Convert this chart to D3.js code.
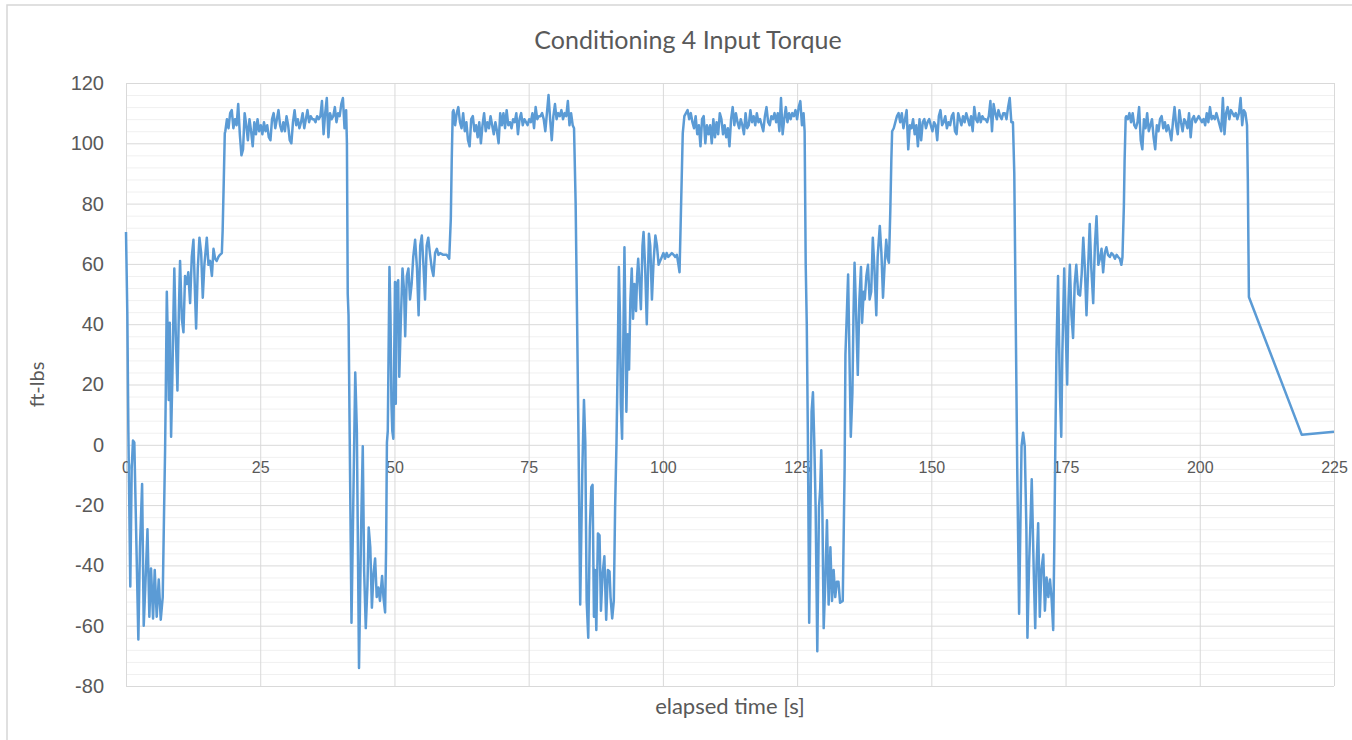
<!DOCTYPE html>
<html lang="en">
<head>
<meta charset="utf-8">
<title>Conditioning 4 Input Torque</title>
<script src="https://d3js.org/d3.v7.min.js"></script>
<style>
  body { margin: 0; background: #fff; font-family: Lato, "Open Sans", sans-serif; }
  .grid-minor line { stroke: #f0f0f0; stroke-width: 1; }
  .grid-major line { stroke: #d9d9d9; stroke-width: 1; }
  .axis text { fill: #595959; }
  .axis path, .axis line { display: none; }
  .torque { fill: none; stroke: #5b9bd5; stroke-width: 2.5; stroke-linejoin: round; }
</style>
</head>
<body>
<div class="main"></div>
<script>
// ---- data (elapsed time [s], torque [ft-lbs]) ----
var sampleStep = 0.3;   // spacing of the readings on the high plateaus

// falling edge, negative swing, rise and ~62 ft-lbs step of each cycle
var low1 = [[0,70.6],[0.25,43],[0.44,4.6],[0.8,-47],[1.06,-8],[1.3,1.4],[1.55,0.8],[1.87,-27],[2.3,-64.6],[2.6,-34],[3.0,-13],[3.3,-60],[3.6,-47],[4.0,-28],[4.35,-57],[4.66,-41],[5.04,-57.6],[5.35,-41.5],[5.72,-57],[6.1,-44.7],[6.47,-58],[6.84,-50.5],[7.1,-21],[7.28,-1.8],[7.4,16],[7.6,50.8],[7.77,36.7],[7.96,14.9],[8.15,40.5],[8.4,2.7],[8.64,22.6],[8.83,43],[9.0,58.5],[9.27,36.7],[9.58,18],[9.83,43],[10.07,61],[10.4,41.8],[10.7,37.3],[11.0,56],[11.3,53.3],[11.6,57.2],[11.94,47],[12.25,62.3],[12.56,68],[12.8,53.3],[13.06,38.6],[13.37,58.5],[13.68,68.7],[14.0,63.6],[14.3,48.8],[14.6,59.7],[15.05,68.7],[15.36,59.7],[15.67,61],[16.0,56],[16.3,65],[16.6,61.7],[16.9,61],[17.2,62.3],[17.5,63],[17.85,63.6],[18.0,71],[18.2,86.7],[18.4,103.3]];

var low2 = [[41.15,100],[41.3,50],[41.45,43],[42.0,-59],[42.7,24],[43.0,4.6],[43.4,-74],[43.8,-27],[44.1,-0.5],[44.35,-41.5],[44.66,-60.8],[44.97,-46.7],[45.2,-27.4],[45.5,-34],[45.8,-54],[46.1,-42.8],[46.4,-37.7],[46.7,-50.5],[47.0,-47.3],[47.3,-51.8],[47.7,-43.5],[47.95,-50.5],[48.26,-55.6],[48.45,-34],[48.6,0.8],[48.76,4.6],[49.07,59],[49.26,43],[49.44,13.6],[49.6,4.6],[49.8,2],[50.1,54],[50.25,13.6],[50.4,53],[50.7,54.6],[50.9,22.6],[51.2,41.8],[51.5,58.5],[51.8,50.8],[52.0,36],[52.3,56],[52.6,58.5],[52.9,48.2],[53.2,53.3],[53.5,62.3],[53.85,68],[54.2,58.5],[54.5,43],[54.8,66],[55.1,69.4],[55.4,59.7],[55.7,48.2],[56.0,66],[56.3,68.7],[56.6,63.6],[56.95,58.5],[57.26,56],[57.57,63.6],[57.9,65],[58.2,63],[58.5,63.6],[59.1,63],[59.74,63],[60.2,61.7],[60.5,75],[60.67,94.4],[60.86,110.4]];

var low3 = [[83.45,105],[83.75,80],[84.05,37],[84.25,7],[84.6,-53],[85.0,-8],[85.3,14.9],[85.55,0.8],[85.8,-51.8],[86.1,-64],[86.4,-27.4],[86.67,-14],[86.9,-13.3],[87.16,-57],[87.35,-41.5],[87.6,-61.4],[87.9,-29.4],[88.2,-30],[88.46,-55],[88.77,-42.8],[89.1,-37],[89.44,-58],[89.75,-41.5],[90.06,-42],[90.25,-50.5],[90.56,-57.6],[90.86,-51.8],[91.1,-21],[91.36,0.8],[91.6,30],[91.8,59],[92.0,43],[92.16,13.6],[92.4,2],[92.6,30],[92.84,65.5],[93.0,43],[93.2,11],[93.46,36.7],[93.7,25],[93.95,48.2],[94.2,58.5],[94.44,41.8],[94.7,53.3],[95.0,44.4],[95.2,56],[95.4,61.7],[95.7,52],[95.9,45],[96.2,66],[96.4,70.6],[96.7,58.5],[97.0,40],[97.4,70],[97.65,66],[97.96,48.2],[98.27,61],[98.6,69.4],[98.9,66],[99.2,59.7],[99.5,61],[99.8,62.3],[100.1,63.6],[100.4,61.7],[100.7,63.6],[101.0,62.3],[101.36,63],[101.67,63.6],[102.0,63],[102.3,62.3],[102.6,63],[102.9,59.7],[103.1,57.2],[103.3,72.6],[103.5,88],[103.7,103.3]];

var low4 = [[126.4,104],[126.6,60],[126.8,40],[127.0,4],[127.25,-59],[127.7,11],[127.95,17.4],[128.2,0.8],[128.45,-21],[128.76,-68.5],[129.07,-21],[129.3,-14.6],[129.5,-1.8],[129.7,-21],[129.95,-60.8],[130.25,-45.4],[130.56,-25],[130.87,-53],[131.2,-34],[131.5,-51.8],[131.8,-41.5],[132.1,-50.5],[132.4,-45.4],[132.7,-45.4],[133.0,-52.4],[133.5,-51.8],[133.85,-8],[134.0,30],[134.3,45.6],[134.5,56.5],[134.8,24],[135.0,2.7],[135.3,17.4],[135.5,43],[135.7,60.4],[136.0,43],[136.3,23.2],[136.6,48.2],[136.9,59],[137.1,40.5],[137.4,50.8],[137.6,48.2],[137.9,56],[138.2,59.7],[138.5,48.2],[138.8,50.8],[139.1,68.7],[139.4,58.5],[139.75,43],[140.0,62.3],[140.4,72.6],[140.7,63.6],[141.0,48.8],[141.3,59.7],[141.6,68],[141.9,61.7],[142.1,60.4],[142.36,77.7],[142.55,94.4],[142.7,104]];

var low5 = [[165.45,90],[165.7,45],[166.0,-8],[166.35,-56],[166.8,-0.5],[167.1,4],[167.4,-0.5],[167.7,-27.4],[167.9,-64],[168.2,-40],[168.5,-23.6],[168.7,-11.4],[168.85,-23.6],[169.1,-44],[169.35,-60.8],[169.6,-40],[169.9,-26],[170.2,-57],[170.5,-41.5],[170.85,-36.4],[171.15,-55],[171.46,-44],[171.8,-50.5],[172.1,-44.7],[172.4,-51],[172.7,-61.4],[172.9,-34],[173.1,0.8],[173.3,30],[173.6,56],[173.95,17.4],[174.2,2.7],[174.4,30],[174.75,58.5],[175.0,40.5],[175.3,20],[175.56,48.2],[175.8,59.7],[176.1,43],[176.4,35.4],[176.7,53.3],[177.0,59.7],[177.36,50],[177.7,49.5],[178.0,56.5],[178.3,68.7],[178.6,58.5],[178.9,43],[179.2,58.5],[179.5,73.2],[179.8,58.5],[180.15,47],[180.46,66],[180.77,75.8],[181.1,59.7],[181.4,61.7],[181.7,65],[182.0,57.2],[182.3,63.6],[182.6,65.5],[182.9,63],[183.25,62.3],[183.56,63.6],[183.87,63],[184.2,61.7],[184.5,63],[184.8,62.3],[185.1,61.7],[185.4,59.7],[185.6,62.3],[185.86,79],[186.0,94.4],[186.2,108.5]];

// ~108 ft-lbs plateaus, one reading every sampleStep seconds
var plateauStart = [18.5, 61.0, 104.0, 143.0, 186.3];
var high1 = [104,108,105,110,111,105,108,106,113,103,96,98,110,106,101,108,104,99,107,103,108,104,106,103,107,104,106,102,101,108,110,105,108,111,106,104,107,104,109,106,101,100,107,111,106,108,105,107,110,105,108,111,107,109,108,108,107,109,108,109,114,103,110,115,102,110,108,109,112,107,110,109,113,115,105,111];
var high2 = [111,106,110,112,107,105,110,104,107,101,99,108,109,104,106,102,107,100,106,110,104,107,105,109,106,103,107,104,100,110,106,110,105,111,106,107,105,108,107,110,103,108,110,106,108,107,106,108,107,110,105,112,108,109,109,110,108,104,110,116,108,101,109,113,108,110,109,111,108,110,109,114,106,110,106];
var high3 = [109,110,111,108,110,107,105,109,103,106,99,108,109,100,106,103,106,100,108,102,107,103,110,108,103,106,102,105,99,108,112,106,110,107,105,108,106,103,110,105,106,111,107,109,106,110,107,108,106,104,109,112,107,106,109,108,110,107,110,104,115,103,108,112,107,110,108,110,109,111,108,112,114,106,110];
var high4 = [105,107,109,110,107,110,105,108,111,98,106,105,108,103,106,99,108,101,107,108,105,107,108,106,104,107,106,101,109,111,106,107,109,105,107,106,109,110,104,103,110,108,106,109,107,110,108,106,109,104,112,108,107,110,107,109,108,108,107,109,114,104,113,110,108,111,109,108,110,110,108,112,115,107,107];
var high5 = [109,108,110,107,110,106,105,107,112,101,98,108,105,110,104,106,108,102,98,106,104,108,109,105,107,104,106,104,101,107,112,106,103,111,107,104,108,107,105,110,102,108,109,107,108,109,108,107,108,106,110,107,112,108,109,108,110,108,106,104,115,103,110,112,108,111,110,109,110,108,110,115,106,111,110,106];

// last drop and the sparse readings at the end
var tail = [[208.95,88],[209.15,49],[219.0,3.3],[225,4.3]];

var yTicks = [-80, -60, -40, -20, 0, 20, 40, 60, 80, 100, 120];
var xTicks = [0, 25, 50, 75, 100, 125, 150, 175, 200, 225];

// ---- layout ----
var width = 1352, height = 740;
var margin = {left: 126, right: 18, top: 83, bottom: 54};

var svg = d3.select(".main").append("svg")
  .attr("width", width)
  .attr("height", height);

svg.append("rect")
  .attr("x", 7).attr("y", 5)
  .attr("width", width + 20).attr("height", height + 20)
  .attr("fill", "none")
  .attr("stroke", "#d6d6d6")
  .attr("stroke-width", 1.5);

var x = d3.scaleLinear().domain([0, 225]).range([margin.left, width - margin.right]);
var y = d3.scaleLinear().domain([-80, 120]).range([height - margin.bottom, margin.top]);

var plotW = x(225) - x(0), plotH = y(-80) - y(120);

// minor horizontal gridlines every 4
svg.append("g")
  .attr("class", "grid-minor")
  .attr("transform", "translate(" + x(0) + ",0)")
  .call(d3.axisLeft(y).tickValues(d3.range(-80, 121, 4).filter(function(d){ return d % 20 != 0; }))
    .tickSize(-plotW).tickFormat(""))
  .select(".domain").remove();

// major horizontal gridlines + y labels
var yAxis = svg.append("g")
  .attr("class", "grid-major axis-y")
  .attr("transform", "translate(" + x(0) + ",0)")
  .call(d3.axisLeft(y).tickValues(yTicks).tickSize(-plotW).tickPadding(22)
    .tickFormat(function(d){ return String(d); }));
yAxis.select(".domain").remove();
yAxis.selectAll("text")
  .attr("fill", "#595959")
  .style("font-size", "20px");

// vertical gridlines
var xGrid = svg.append("g")
  .attr("class", "grid-major")
  .attr("transform", "translate(0," + y(-80) + ")")
  .call(d3.axisBottom(x).tickValues(xTicks).tickSize(-plotH).tickFormat(""));
xGrid.select(".domain").remove();

// x labels sit under the zero line
var xAxis = svg.append("g")
  .attr("class", "axis")
  .attr("transform", "translate(0," + y(0) + ")")
  .call(d3.axisBottom(x).tickValues(xTicks).tickSize(0).tickPadding(17));
xAxis.selectAll("text")
  .style("font-size", "16px");

// the series
var series = [].concat(
  low1, plateauPoints(plateauStart[0], high1),
  low2, plateauPoints(plateauStart[1], high2),
  low3, plateauPoints(plateauStart[2], high3),
  low4, plateauPoints(plateauStart[3], high4),
  low5, plateauPoints(plateauStart[4], high5),
  tail);

function plateauPoints(start, values) {
  return values.map(function(v, i){ return [start + i * sampleStep, v]; });
}

var line = d3.line()
  .x(function(d){ return x(d[0]); })
  .y(function(d){ return y(d[1]); });

svg.append("path")
  .datum(series)
  .attr("class", "torque")
  .attr("d", line);

// titles
svg.append("text")
  .attr("x", (x(0) + x(225)) / 2 - 42)
  .attr("y", 49)
  .attr("text-anchor", "middle")
  .attr("fill", "#595959")
  .style("font-size", "25px")
  .text("Conditioning 4 Input Torque");

svg.append("text")
  .attr("transform", "translate(44," + (y(120) + y(-80)) / 2 + ") rotate(-90)")
  .attr("text-anchor", "middle")
  .attr("fill", "#595959")
  .style("font-size", "20px")
  .text("ft-lbs");

svg.append("text")
  .attr("x", (x(0) + x(225)) / 2)
  .attr("y", 714)
  .attr("text-anchor", "middle")
  .attr("fill", "#595959")
  .style("font-size", "22px")
  .text("elapsed time [s]");
</script>
</body>
</html>
